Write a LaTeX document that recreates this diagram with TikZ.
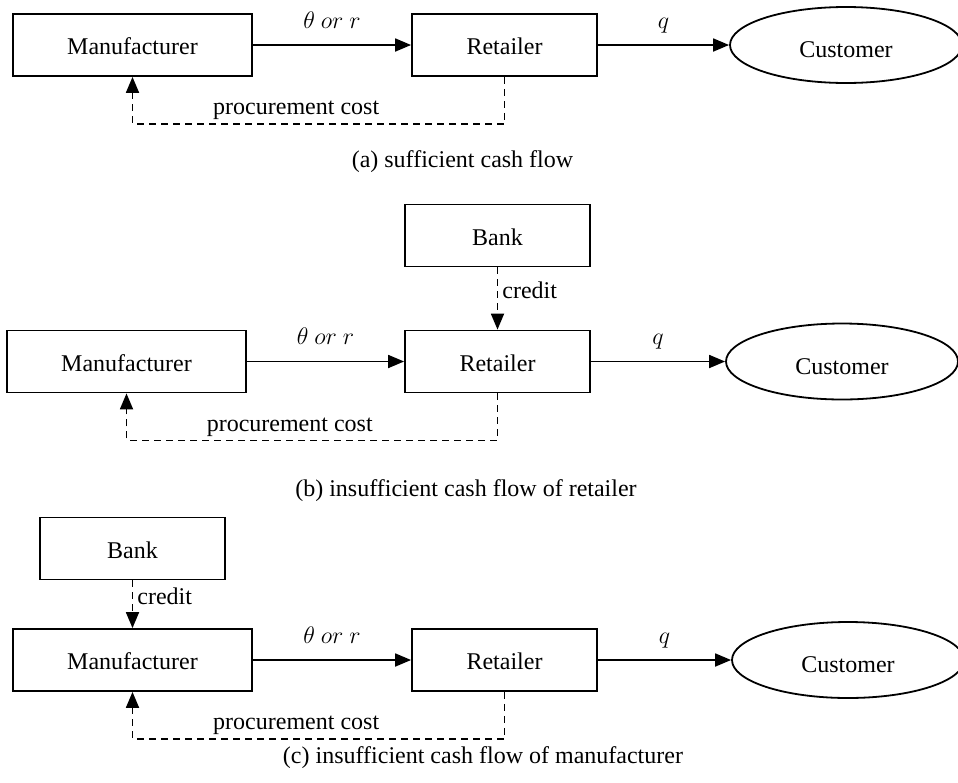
\documentclass[tikz,border=0pt]{standalone}
\usepackage{fontspec}
\setmainfont{Liberation Serif}
\usetikzlibrary{arrows.meta,positioning,shapes.geometric}

\begin{document}
\begin{tikzpicture}[
    x=0.5pt, y=-0.5pt, font=\fontsize{12}{14}\selectfont,
    box/.style={draw, line width=0.9pt, minimum height=31pt, inner sep=0pt,
                text height=10pt},
    wbox/.style={box, minimum width=119.5pt},
    nbox/.style={box, minimum width=92.5pt},
    cust/.style={draw, line width=0.9pt, ellipse, minimum width=116pt,
                 minimum height=38pt, inner sep=0pt, text height=13pt},
    arr/.style={-{Triangle[length=8pt,width=6.5pt]}, line width=0.9pt},
    darr/.style={arr, dash pattern=on 3.5pt off 2.5pt},
    lbl/.style={midway, anchor=base, yshift=8.5pt},
    caption/.style={anchor=base}
  ]
    \useasboundingbox (0,0) rectangle (958,782);

    % (a) sufficient cash flow
    \node[wbox] (manA) at (132.5,45) {Manufacturer};
    \node[nbox] (retA) at (504.5,45) {Retailer};
    \node[cust] (cusA) at (846,45) {Customer};
    \draw[arr] (manA) -- node[lbl]{$\theta\ or\ r$} (retA);
    \draw[arr] (retA) -- node[lbl]{$q$} (cusA);
    \draw[darr] (retA.south) -- ++(0,47)
        -| node[pos=0.28, anchor=base, yshift=4.5pt]{procurement cost} (manA.south);
    \node[caption] (capA) at (462.5,167) {(a) sufficient cash flow};

    % (b) insufficient cash flow of retailer
    \node[nbox] (bankB) at (497.5,235.5) {Bank};
    \node[wbox] (manB) at (126.5,361.5) {Manufacturer};
    \node[nbox] (retB) at (497.5,361.5) {Retailer};
    \node[cust] (cusB) at (842,361.5) {Customer};
    \draw[darr] (bankB) -- node[midway, anchor=base west, inner sep=2pt]{credit} (retB);
    \draw[arr] (manB) -- node[lbl]{$\theta\ or\ r$} (retB);
    \draw[arr] (retB) -- node[lbl]{$q$} (cusB);
    \draw[darr] (retB.south) -- ++(0,47)
        -| node[pos=0.28, anchor=base, yshift=4.5pt]{procurement cost} (manB.south);
    \node[caption] (capB) at (466,496) {(b) insufficient cash flow of retailer};

    % (c) insufficient cash flow of manufacturer
    \node[nbox] (bankC) at (132.5,548.5) {Bank};
    \node[wbox] (manC) at (132.5,660) {Manufacturer};
    \node[nbox] (retC) at (504.5,660) {Retailer};
    \node[cust] (cusC) at (848,660) {Customer};
    \draw[darr] (bankC) -- node[midway, anchor=base west, inner sep=2pt]{credit} (manC);
    \draw[arr] (manC) -- node[lbl]{$\theta\ or\ r$} (retC);
    \draw[arr] (retC) -- node[lbl]{$q$} (cusC);
    \draw[darr] (retC.south) -- ++(0,47)
        -| node[pos=0.28, anchor=base, yshift=4.5pt]{procurement cost} (manC.south);
    \node[caption] (capC) at (483,763) {(c) insufficient cash flow of manufacturer};
  \end{tikzpicture}
\end{document}
